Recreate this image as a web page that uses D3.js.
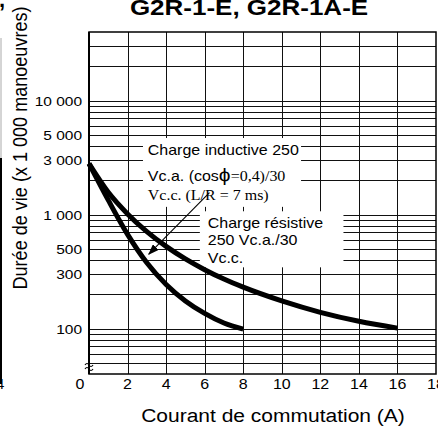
<!DOCTYPE html>
<html>
<head>
<meta charset="utf-8">
<script src="https://cdnjs.cloudflare.com/ajax/libs/d3/7.8.5/d3.min.js"></script>
<style>
  body { margin: 0; background: #fff; }
  svg  { display: block; font-family: "Liberation Sans", Arial, sans-serif; }
</style>
</head>
<body>
<svg id="chart" width="438" height="431"></svg>
<script>
// data
const xTicks   = [0, 2, 4, 6, 8, 10, 12, 14, 16, 18];
const yLabels  = [100, 300, 500, 1000, 3000, 5000, 10000];
const yGrid    = [50, 60, 70, 80, 90, 100, 200, 300, 400, 500, 600, 700, 800, 900,
                  1000, 2000, 3000, 4000, 5000, 6000, 7000, 8000, 9000, 10000, 20000, 30000];

// upper curve (out to 16 A)
const upperAmps = [0, 1, 2, 3, 4, 5, 6, 7, 8, 10, 12, 14, 16];
const upperLife = [2800, 1570, 1015, 710, 527, 409, 329, 272, 231, 175, 139, 116, 101];

// lower curve (out to 8 A)
const lowerAmps = [0, 1, 2, 3, 4, 5, 6, 7, 8];
const lowerLife = [2800, 1340, 671, 378, 244, 175, 136, 112, 99];

const sq = 0.86; // the scan is a bit squashed vertically

const svg = d3.select("#chart");
const x = d3.scaleLinear().domain([0, 18]).range([89, 436]);
const y = d3.scaleLog().domain([40, 40000]).range([374, 32]);

const fmt = v => d3.format(",")(v).replace(/,/g, " ");

// grid
const grid = svg.append("g").attr("stroke", "#111").attr("stroke-width", 1);
grid.selectAll("line.h").data(yGrid).join("line")
  .attr("class", "h")
  .attr("x1", x(0)).attr("x2", x(18))
  .attr("y1", d => Math.round(y(d)) + 0.5)
  .attr("y2", d => Math.round(y(d)) + 0.5);
grid.selectAll("line.v").data(xTicks.slice(1, -1)).join("line")
  .attr("class", "v")
  .attr("x1", d => Math.round(x(d)) + 0.5)
  .attr("x2", d => Math.round(x(d)) + 0.5)
  .attr("y1", y(40000)).attr("y2", y(40));

// white boxes behind the notes
const box1 = { x0: 2.8, x1: 11.0, v0: 4700, v1: 1170 };
const box2 = { x0: 5.75, x1: 13.2, v0: 1070, v1: 345 };
[box1, box2].forEach(b => {
  svg.append("rect")
    .attr("x", x(b.x0)).attr("y", y(b.v0))
    .attr("width", x(b.x1) - x(b.x0))
    .attr("height", y(b.v1) - y(b.v0))
    .attr("fill", "#fff");
});

// frame
svg.append("rect")
  .attr("x", x(0)).attr("y", y(40000))
  .attr("width", x(18) - x(0)).attr("height", y(40) - y(40000))
  .attr("fill", "none").attr("stroke", "#000").attr("stroke-width", 1.5);
svg.append("line")
  .attr("x1", x(0)).attr("x2", x(0))
  .attr("y1", y(40000)).attr("y2", y(40))
  .attr("stroke", "#000").attr("stroke-width", 2);

// axis break mark
const bx = x(0), by = y(40) - 9;
[0, 4].forEach(o => {
  svg.append("path")
    .attr("d", `M${bx - 4},${by + o} q2,-3 4,0 t4,0`)
    .attr("fill", "none").attr("stroke", "#000").attr("stroke-width", 1.2);
});

// curves
const line = d3.line()
  .x(d => x(d[0]))
  .y(d => y(d[1]))
  .curve(d3.curveMonotoneX);

svg.append("path")
  .datum(upperAmps.map((a, i) => [a, upperLife[i]]))
  .attr("d", line)
  .attr("fill", "none").attr("stroke", "#000").attr("stroke-width", 5);
svg.append("path")
  .datum(lowerAmps.map((a, i) => [a, lowerLife[i]]))
  .attr("d", line)
  .attr("fill", "none").attr("stroke", "#000").attr("stroke-width", 5);

// arrow
svg.append("defs").append("marker")
  .attr("id", "head")
  .attr("markerUnits", "userSpaceOnUse")
  .attr("markerWidth", 11).attr("markerHeight", 8)
  .attr("refX", 10).attr("refY", 4)
  .attr("orient", "auto")
  .append("path").attr("d", "M0,0 L11,4 L0,8 z").attr("fill", "#000");
svg.append("line")
  .attr("x1", x(6.25)).attr("y1", y(1560))
  .attr("x2", x(3.1)).attr("y2", y(450))
  .attr("stroke", "#000").attr("stroke-width", 1.1)
  .attr("marker-end", "url(#head)");

// notes
function note(px, py, size, fam) {
  return svg.append("text")
    .attr("transform", `translate(${px},${py}) scale(1,${sq})`)
    .attr("font-size", size)
    .attr("font-family", fam || null)
    .attr("fill", "#000");
}
const serif = "'Liberation Serif', 'Times New Roman', serif";
const nx1 = x(3.05);
note(nx1, 155, 16).text("Charge inductive 250");
const l2 = note(nx1, 181, 16);
l2.append("tspan").text("Vc.a. (cos");
l2.append("tspan").attr("font-size", 21).text("ϕ");
l2.append("tspan").attr("font-family", serif).text("=0,4)/30");
note(nx1, 200, 16, serif).text("Vc.c. (L/R = 7 ms)");

const nx2 = x(6.16);
note(nx2, 228, 16).text("Charge résistive");
note(nx2, 245, 16).text("250 Vc.a./30");
note(nx2, 263, 16).text("Vc.c.");

// y tick labels
svg.append("g").selectAll("g").data(yLabels).join("g")
  .attr("transform", d => `translate(82,${y(d) + 5}) scale(1,${sq})`)
  .append("text")
  .attr("text-anchor", "end")
  .attr("font-size", 15.5)
  .text(d => fmt(d));

// x tick labels
svg.append("g").selectAll("g").data(xTicks).join("g")
  .attr("transform", d => `translate(${d === 0 ? x(0) - 9 : x(d)},389) scale(1,${sq})`)
  .append("text")
  .attr("text-anchor", "middle")
  .attr("font-size", 16)
  .text(d => d);

// titles
svg.append("text")
  .attr("transform", `translate(249,15) scale(1,${sq})`)
  .attr("text-anchor", "middle")
  .attr("font-size", 26)
  .attr("font-weight", "bold")
  .text("G2R-1-E, G2R-1A-E");

svg.append("text")
  .attr("transform", `translate(273,422) scale(1,${sq})`)
  .attr("text-anchor", "middle")
  .attr("font-size", 21)
  .text("Courant de commutation (A)");

svg.append("text")
  .attr("transform", `translate(27,148) rotate(-90) scale(${sq},1)`)
  .attr("text-anchor", "middle")
  .attr("font-size", 21)
  .text("Durée de vie (x 1 000 manoeuvres)");

// bits of the neighbouring figure left in the crop
svg.append("text").attr("x", -1).attr("y", 7)
  .attr("font-size", 22).attr("font-weight", "bold").text(",");
svg.append("text").attr("x", -4).attr("y", 389)
  .attr("font-size", 15).text("4");
svg.append("line").attr("x1", 1).attr("x2", 1).attr("y1", 38).attr("y2", 158)
  .attr("stroke", "#aaa").attr("stroke-width", 1);
svg.append("line").attr("x1", 1).attr("x2", 1).attr("y1", 158).attr("y2", 384)
  .attr("stroke", "#000").attr("stroke-width", 2);
</script>
</body>
</html>
